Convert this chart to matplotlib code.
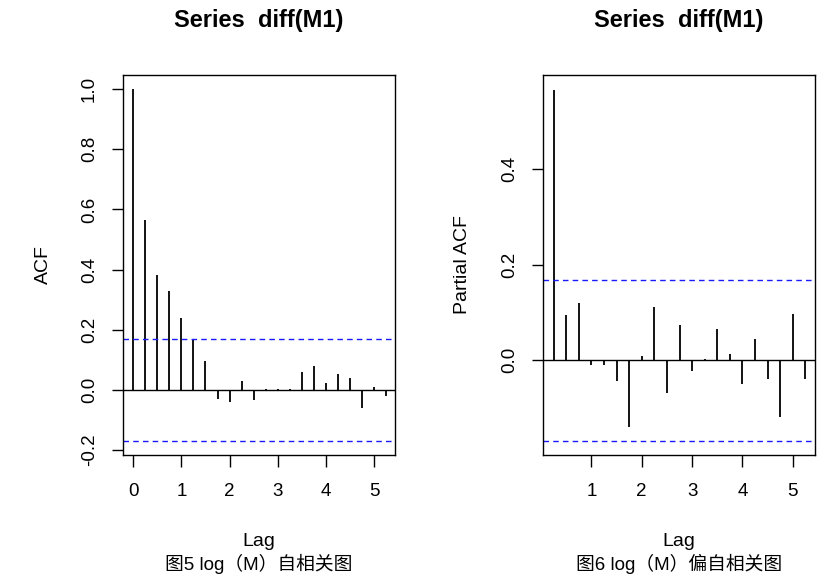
import matplotlib
matplotlib.use("Agg")
import matplotlib.pyplot as plt

# ACF of diff(M1), quarterly lags
acf_lags = [0, 0.25, 0.5, 0.75, 1, 1.25, 1.5, 1.75, 2, 2.25, 2.5, 2.75,
            3, 3.25, 3.5, 3.75, 4, 4.25, 4.5, 4.75, 5, 5.25]
acf_vals = [1.0, 0.564, 0.381, 0.328, 0.239, 0.169, 0.097, -0.030, -0.041,
            0.030, -0.033, 0.003, 0.003, 0.001, 0.060, 0.078, 0.021, 0.052,
            0.039, -0.062, 0.010, -0.022]

# PACF
pacf_lags = acf_lags[1:]
pacf_vals = [0.566, 0.094, 0.119, -0.010, -0.010, -0.043, -0.140, 0.009,
             0.112, -0.070, 0.073, -0.023, 0.003, 0.066, 0.013, -0.050,
             0.045, -0.039, -0.119, 0.097, -0.040]

ci = 0.169
acf_yticks = [-0.2, 0.0, 0.2, 0.4, 0.6, 0.8, 1.0]
pacf_yticks = [0.0, 0.2, 0.4]
acf_xticks = [0, 1, 2, 3, 4, 5]
pacf_xticks = [1, 2, 3, 4, 5]

plt.rcParams['font.family'] = ['Liberation Sans', 'DejaVu Sans']

fig = plt.figure(figsize=(8.4, 5.77), dpi=100)
W, H = 840, 577


def panel(rect_px, lags, vals, xlim, ylim, xticks, yticks, ylabel, ylab_x, caption):
    l, r, t, b = rect_px
    ax = fig.add_axes([l / W, (H - b) / H, (r - l) / W, (b - t) / H])
    ax.vlines(lags, 0, vals, color='black', linewidth=1.3)
    ax.axhline(0, color='black', linewidth=1.0)
    for c in (ci, -ci):
        ax.axhline(c, color='#1a1aff', linestyle=(0, (4, 3)), linewidth=1.0)
    ax.set_xlim(*xlim)
    ax.set_ylim(*ylim)
    ax.set_xticks(xticks)
    ax.set_xticklabels([str(x) for x in xticks])
    ax.set_yticks(yticks)
    ax.set_yticklabels(['%.1f' % y for y in yticks], rotation=90, va='center')
    ax.tick_params(axis='x', direction='out', length=8.5, width=1,
                   labelsize=13.5, pad=12)
    ax.tick_params(axis='y', direction='out', length=8, width=1,
                   labelsize=13.5, pad=10)
    for s in ax.spines.values():
        s.set_linewidth(1.0)
    cx = (l + r) / 2 / W
    fig.text(cx, 1 - 21 / H, 'Series  diff(M1)', ha='center', va='center',
             fontsize=17, fontweight='bold')
    fig.text(cx, 1 - 541 / H, 'Lag', ha='center', va='center', fontsize=14)
    fig.text(cx, 1 - 564 / H, caption, ha='center', va='center', fontsize=13.5,
             family=['Liberation Sans', 'Noto Sans CJK SC'])
    fig.text(ylab_x / W, 1 - (t + b) / 2 / H, ylabel, rotation=90,
             ha='center', va='center', fontsize=14)
    return ax


ax1 = panel((123, 395, 75, 455), acf_lags, acf_vals, (-0.21, 5.43),
            (-0.217, 1.047), acf_xticks, acf_yticks, 'ACF', 43,
            '图5 log（M）自相关图')

ax2 = panel((543, 815, 75, 455), pacf_lags, pacf_vals, (0.04, 5.44),
            (-0.199, 0.598), pacf_xticks, pacf_yticks, 'Partial ACF', 462,
            '图6 log（M）偏自相关图')

fig.savefig('out.png', dpi=100)
